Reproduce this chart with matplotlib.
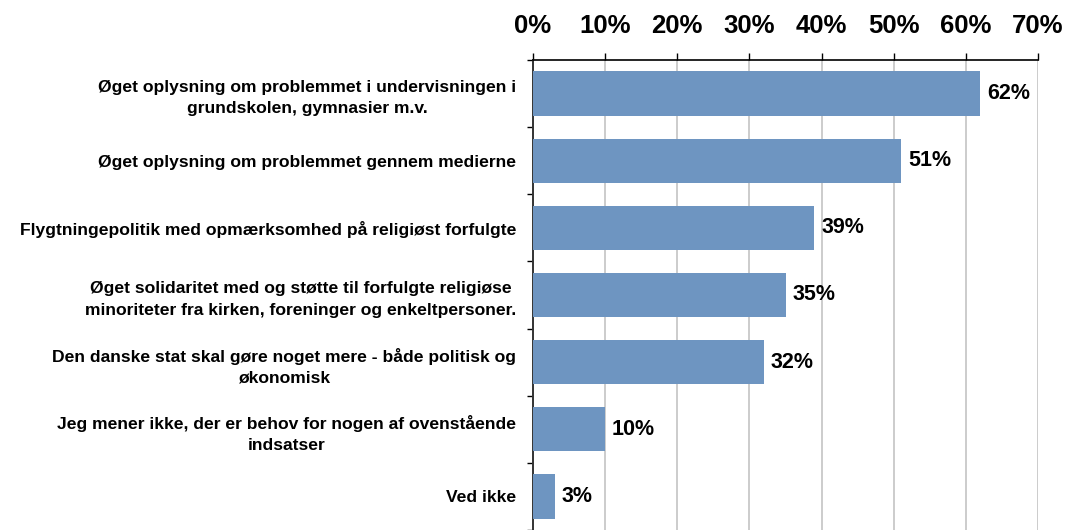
import matplotlib.pyplot as plt
import numpy as np

OUT_PATH = "out.png"

categories = [
    "Øget oplysning om problemmet i undervisningen i\ngrundskolen, gymnasier m.v.",
    "Øget oplysning om problemmet gennem medierne",
    "Flygtningepolitik med opmærksomhed på religiøst forfulgte",
    "Øget solidaritet med og støtte til forfulgte religiøse\nminoriteter fra kirken, foreninger og enkeltpersoner.",
    "Den danske stat skal gøre noget mere - både politisk og\nøkonomisk",
    "Jeg mener ikke, der er behov for nogen af ovenstående\nindsatser",
    "Ved ikke",
]
values = [62, 51, 39, 35, 32, 10, 3]
xticks = [0, 10, 20, 30, 40, 50, 60, 70]

BAR_COLOR = "#6E95C1"


def main():
    plt.rcParams["font.family"] = ["Liberation Sans", "DejaVu Sans"]
    plt.rcParams["font.weight"] = "bold"

    fig = plt.figure(figsize=(10.67, 5.30), dpi=100)
    # plot area: x 533..1038 px, top spine at y=60 px
    ax = fig.add_axes([533 / 1067, 0.0, 505 / 1067, 470 / 530])

    y = np.arange(len(categories))
    bars = ax.barh(y, values, height=0.66, color=BAR_COLOR, zorder=3)

    for bar, v in zip(bars, values):
        ax.annotate(f"{v}%", (v, bar.get_y() + bar.get_height() / 2),
                    xytext=(5, 0), textcoords="offset points",
                    va="center", ha="left", fontsize=15.5, fontweight="bold")

    ax.set_xlim(0, 70)
    ax.set_ylim(-0.5 + 470 / 68, -0.5)

    ax.xaxis.set_ticks_position("top")
    ax.set_xticks(xticks)
    ax.set_xticklabels([f"{t}%" for t in xticks], fontsize=18.5, fontweight="bold")
    ax.tick_params(axis="x", direction="out", length=5, width=1, pad=11, colors="black")
    ax.grid(axis="x", color="#C4C4C4", linewidth=1.2, zorder=0)

    ax.set_yticks(y)
    ax.set_yticklabels(categories, fontsize=12.6, fontweight="bold",
                       multialignment="center", linespacing=1.5)
    ax.tick_params(axis="y", which="major", length=0, pad=12)
    ax.set_yticks(np.arange(len(categories) + 1) - 0.5, minor=True)
    ax.tick_params(axis="y", which="minor", length=4.5, width=1, direction="out")

    for side in ["right", "bottom"]:
        ax.spines[side].set_visible(False)
    ax.spines["top"].set_linewidth(1.2)
    ax.spines["left"].set_linewidth(1.4)
    ax.spines["left"].set_color("#333333")

    fig.savefig(OUT_PATH, dpi=100)


if __name__ == "__main__":
    main()
